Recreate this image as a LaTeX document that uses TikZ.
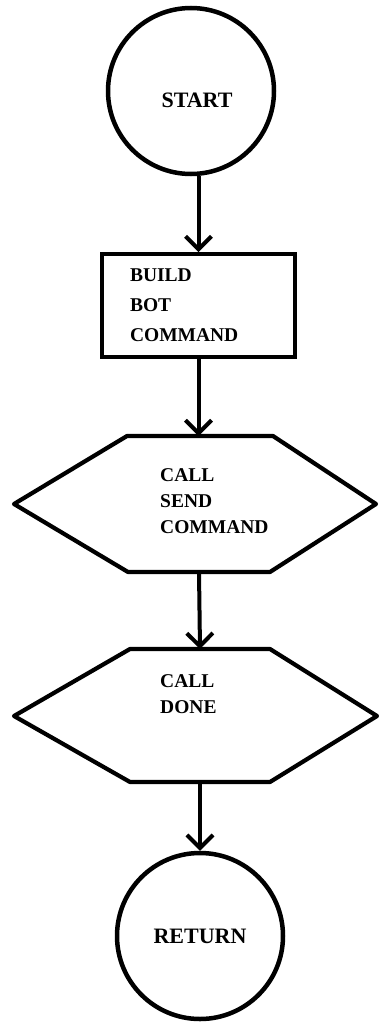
\documentclass[tikz,border=0pt]{standalone}
\usepackage{fontspec}
\setmainfont{Liberation Serif}
\usepackage{tikz}
\usetikzlibrary{arrows.meta}

\begin{document}
\begin{tikzpicture}[x=1pt,y=-1pt,
	>={Straight Barb[length=13pt,width=26pt]},
	lbl/.style={inner sep=0pt,align=left,font=\fontsize{19.5}{26}\selectfont\bfseries},
	term/.style={draw,circle,line width=4.5pt,minimum size=166pt,inner sep=0pt,
		font=\fontsize{22}{26}\selectfont\bfseries},
	stepbox/.style={draw,line width=3.8pt,align=left,text width=137pt,inner xsep=28pt,
		minimum height=103pt,font=\fontsize{19.5}{30}\selectfont\bfseries},
	hexline/.style={line width=4.2pt,line join=round},
	flow/.style={->,line width=4pt}]
	\useasboundingbox (0,0) rectangle (379,1025);
	
	% start and end circles
	\node[term] (start) at (191,91) {};
	\node[lbl,font=\fontsize{22}{26}\selectfont\bfseries] (start-txt) at (197,100) {START};
	\node[term] (ret) at (200,936) {RETURN};
	
	\node[stepbox] (build) at (198.5,305.5) {BUILD\\BOT\\COMMAND};
	
	% call send command
	\draw[hexline] (14,504) -- (127,436) -- (273,436) -- (376,504)
	-- (270,572) -- (128,572) -- cycle;
	\coordinate (send-n) at (199,436);
	\coordinate (send-s) at (199,572);
	\node[lbl,anchor=north west] (send) at (160,468) {CALL\\SEND\\COMMAND};
	
	% call done
	\draw[hexline] (14,716) -- (130,649) -- (270,649) -- (377,716)
	-- (270,782) -- (130,782) -- cycle;
	\coordinate (done-n) at (200,649);
	\coordinate (done-s) at (200,782);
	\node[lbl,anchor=north west] (done) at (160,674) {CALL\\DONE};
	
	\draw[flow] (start.south -| build.north) -- (build.north);
	\draw[flow] (build.south) -- (build.south |- send-n);
	\draw[flow] (send-s) -- (done-n);
	\draw[flow] (done-s) -- (ret.north);
\end{tikzpicture}
\end{document}
